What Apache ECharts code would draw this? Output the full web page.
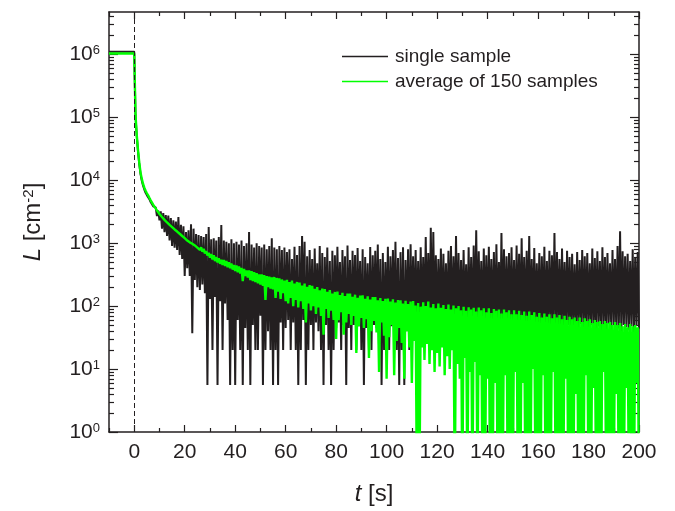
<!DOCTYPE html>
<html><head><meta charset="utf-8">
<script src="https://cdn.jsdelivr.net/npm/echarts@6/dist/echarts.min.js"></script>
<style>html,body{margin:0;padding:0;background:#fff}#c{width:675px;height:511px}</style>
</head><body><div id="c"></div>
<script>
// sampling step of the recorded data (s)
const dt = 0.5;
const preTimes = [-10, 0];
const blackPre = [1.1e6, 1.1e6];
const greenPre = [1.03e6, 1.03e6];

// single sample, t = 0.5 ... 200 s
const blackA = [
  1.05e5, 5.0e4, 2.85e4, 1.8e4, 1.25e4, 9800, 8200, 7100, 6300, 5800,
  5500, 5000, 4500, 4300, 3850, 3600, 3700, 2700, 3300, 2300,
  3200, 1700, 3000, 1500, 2800, 1300, 2750, 1100, 2500, 900,
  2300, 850, 2200, 780, 2600, 650, 1950, 560, 1850, 300
];
const blackB = [
  1500, 400, 1600, 300, 2000, 37, 1700, 260, 1400, 200,
  1350, 180, 1300, 220, 1250, 160, 1400, 5.6, 1800, 130,
  1150, 20, 1200, 140, 1100, 5.6, 1250, 120, 1950, 20,
  1100, 110, 1050, 60, 1000, 5.6, 1150, 20, 1000, 5.6,
  1050, 60, 950, 20, 1100, 5.6, 900, 45, 1000, 20,
  1500, 5.6, 950, 50, 850, 20, 1000, 20, 900, 70,
  850, 5.6, 950, 20, 800, 40, 900, 20, 1200, 5.6,
  850, 20, 800, 5.6, 900, 55, 780, 20, 850, 45
];
const blackC = [
  720, 60, 800, 20, 560, 55, 880, 20, 650, 5.6,
  900, 20, 1300, 60, 1050, 5.6, 620, 20, 780, 50,
  560, 20, 820, 55, 480, 40, 900, 20, 700, 5.6,
  600, 50, 850, 20, 520, 5.6, 760, 20, 640, 45,
  880, 55, 500, 20, 780, 50, 620, 5.6, 920, 45,
  540, 20, 760, 50, 650, 20, 840, 48, 520, 20,
  800, 5.6, 600, 45, 480, 20, 870, 20, 640, 50,
  760, 45, 950, 20, 560, 5.6, 700, 20, 500, 45,
  880, 20, 620, 48, 780, 42, 1050, 20, 580, 5.6,
  720, 20, 860, 5.6, 540, 40, 800, 20, 960, 45
];
const blackD = [
  620, 45, 780, 50, 520, 40, 860, 55, 600, 42,
  1250, 50, 700, 38, 1750, 45, 1500, 52, 640, 40,
  560, 48, 820, 36, 680, 50, 480, 42, 760, 55,
  900, 40, 620, 46, 1300, 38, 700, 50, 540, 44,
  780, 52, 460, 40, 860, 48, 600, 36, 920, 50,
  1600, 42, 740, 55, 520, 40, 820, 46, 640, 38,
  880, 50, 560, 44, 720, 36, 960, 52, 500, 40,
  1450, 46, 800, 38, 620, 50, 700, 42, 860, 48,
  540, 36, 920, 52, 680, 40, 1200, 46, 600, 44,
  760, 50, 1300, 38, 560, 48, 840, 42, 480, 54,
  700, 40, 620, 46, 880, 36, 520, 50, 760, 44,
  640, 48, 1450, 40, 720, 52, 560, 38, 820, 46,
  500, 42, 760, 50, 600, 36, 680, 48, 460, 44,
  720, 40, 540, 52, 780, 38, 620, 46, 700, 42,
  480, 50, 820, 36, 580, 44, 740, 48, 520, 40,
  860, 46, 600, 38, 700, 52, 480, 42, 780, 50,
  560, 40, 900, 44, 1550, 36, 740, 50, 620, 46,
  680, 42, 520, 48, 800, 38, 600, 50, 720, 44
];

// average of 150 samples, t = 0.5 ... 200 s (0.1 = zero count, below axis)
const greenA = [
  1.1e5, 5.2e4, 3.0e4, 1.9e4, 1.32e4, 1.05e4, 8700, 7600, 6800, 6200,
  5750, 5250, 4800, 4470, 4100, 3800, 3550, 3310, 3100, 2900,
  2750, 2600, 2460, 2340, 2230, 2130, 2040, 1950, 1870, 1800,
  1720, 1650, 1590, 1530, 1470, 1410, 1360, 1300, 1250, 1200
];
const greenB = [
  1210, 1100, 1150, 1030, 1090, 980, 1030, 920, 960, 850,
  910, 780, 860, 730, 810, 690, 750, 640, 700, 590,
  670, 550, 640, 520, 600, 495, 575, 470, 545, 450,
  540, 435, 520, 415, 495, 400, 475, 380, 450, 360,
  440, 345, 425, 330, 405, 250, 390, 300, 370, 285,
  370, 260, 360, 250, 345, 240, 335, 230, 320, 220,
  320, 210, 310, 125, 300, 200, 295, 190, 285, 185,
  290, 135, 280, 170, 275, 130, 265, 160, 255, 120
];
const greenC = [
  262, 110, 240, 135, 255, 100, 228, 125, 242, 95,
  236, 120, 212, 90, 228, 55, 202, 110, 215, 85,
  210, 100, 188, 75, 200, 95, 178, 70, 190, 35,
  186, 90, 168, 65, 180, 85, 158, 60, 168, 30,
  170, 60, 150, 80, 163, 35, 145, 55, 158, 75,
  158, 50, 141, 70, 152, 18, 136, 48, 147, 65,
  149, 45, 131, 62, 143, 15, 127, 40, 139, 58,
  139, 38, 124, 9, 134, 55, 120, 34, 131, 7,
  132, 32, 118, 50, 128, 8, 114, 28, 125, 45,
  124, 26, 110, 7, 121, 40, 108, 22, 118, 6
];
const greenD = [
  120, 28, 102, 0.1, 112, 0.1, 98, 22, 115, 14,
  100, 25, 118, 12, 95, 20, 108, 9, 92, 18,
  110, 11, 94, 22, 104, 8, 90, 16, 106, 10,
  88, 20, 102, 0.1, 92, 12, 100, 7, 86, 0.1,
  98, 15, 84, 0.1, 96, 9, 88, 0.1, 94, 13,
  82, 0.1, 95, 8, 86, 0.1, 92, 0.1, 80, 7,
  92, 0.1, 78, 0.1, 90, 6, 84, 0.1, 88, 0.1,
  76, 0.1, 88, 8, 80, 0.1, 86, 0.1, 74, 0.1,
  86, 9, 74, 0.1, 84, 0.1, 72, 6, 82, 0.1,
  70, 0.1, 82, 0.1, 72, 10, 80, 0.1, 68, 0.1,
  78, 0.1, 66, 8, 76, 0.1, 68, 0.1, 74, 0.1,
  64, 9, 74, 0.1, 66, 0.1, 72, 0.1, 62, 0.1,
  70, 7, 60, 0.1, 68, 0.1, 62, 0.1, 66, 4,
  58, 0.1, 66, 0.1, 56, 0.1, 64, 8, 58, 0.1,
  62, 0.1, 54, 5, 60, 0.1, 56, 0.1, 58, 0.1,
  52, 9, 58, 0.1, 54, 0.1, 56, 0.1, 50, 0.1,
  56, 4, 50, 0.1, 54, 0.1, 48, 0.1, 52, 5,
  46, 0.1, 52, 0.1, 48, 0.1, 50, 6, 46, 0.1
];

// axis ticks
const xMajor = [0, 20, 40, 60, 80, 100, 120, 140, 160, 180, 200];
const xMinor = [-10, 10, 30, 50, 70, 90, 110, 130, 150, 170, 190];
const yMajor = [1, 10, 100, 1e3, 1e4, 1e5, 1e6];
const yMinor = [];
for (let d = 1; d <= 1e6; d *= 10) for (let m = 2; m <= 9; m++) if (m * d < 4.7e6) yMinor.push(m * d);

const seriesNames = ['single sample', 'average of 150 samples'];
const INK = '#231f20';
const GREEN = '#00ff00';
const FONT = '"Liberation Sans", Arial, sans-serif';

function build(pre, parts) {
  const out = preTimes.map((t, i) => [t, pre[i]]);
  let k = 1;
  parts.forEach(p => p.forEach(v => { out.push([k * dt, v]); k++; }));
  return out;
}

const X_MIN = -10, X_MAX = 200, Y_MIN = 1, Y_MAX = 4.7e6;

function xAx(pos, ticks, len, withLine, withLabel) {
  return {
    type: 'value', position: pos, min: X_MIN, max: X_MAX,
    axisLine: { show: withLine, onZero: false, lineStyle: { color: INK, width: 1.5 } },
    axisTick: { show: true, inside: true, length: len, customValues: ticks, lineStyle: { color: INK, width: 1.2 } },
    axisLabel: withLabel ? { show: true, customValues: ticks, margin: 10, color: INK, fontSize: 21, fontFamily: FONT } : { show: false },
    splitLine: { show: false }
  };
}
function yAx(pos, ticks, len, withLine, withLabel) {
  return {
    type: 'log', logBase: 10, position: pos, min: Y_MIN, max: Y_MAX,
    axisLine: { show: withLine, onZero: false, lineStyle: { color: INK, width: 1.5 } },
    axisTick: { show: true, inside: true, length: len, customValues: ticks, lineStyle: { color: INK, width: 1.2 } },
    axisLabel: withLabel ? {
      show: true, customValues: ticks, margin: 9,
      formatter: v => '{b|10}{s|' + Math.round(Math.log10(v)) + '}',
      rich: {
        b: { fontSize: 21, color: INK, fontFamily: FONT },
        s: { fontSize: 13, color: INK, fontFamily: FONT, verticalAlign: 'top' }
      }
    } : { show: false },
    splitLine: { show: false }
  };
}

const xAxes = [
  xAx('bottom', xMajor, 7, true, true),
  xAx('bottom', xMinor, 4, false, false),
  xAx('top', xMajor, 7, true, false),
  xAx('top', xMinor, 4, false, false)
];
Object.assign(xAxes[0], {
  name: '{i|t} [s]', nameLocation: 'middle', nameGap: 50,
  nameTextStyle: { fontSize: 24, color: INK, fontFamily: FONT, rich: { i: { fontSize: 24, fontStyle: 'italic', color: INK, fontFamily: FONT } } }
});
const yAxes = [
  yAx('left', yMajor, 9, true, true),
  yAx('left', yMinor, 5, false, false),
  yAx('right', yMajor, 9, true, false),
  yAx('right', yMinor, 5, false, false)
];
Object.assign(yAxes[0], {
  name: '{i|L} [cm{s|-2}]', nameLocation: 'middle', nameGap: 64, nameRotate: 90,
  nameTextStyle: { fontSize: 24, color: INK, fontFamily: FONT, rich: {
    i: { fontSize: 24, fontStyle: 'italic', color: INK, fontFamily: FONT },
    s: { fontSize: 15, verticalAlign: 'top', color: INK, fontFamily: FONT } } }
});

const chart = echarts.init(document.getElementById('c'), null, { renderer: 'canvas' });
chart.setOption({
  animation: false,
  backgroundColor: '#fff',
  grid: { left: 109, right: 36, top: 12, bottom: 77, containLabel: false },
  xAxis: xAxes,
  yAxis: yAxes,
  legend: {
    orient: 'vertical', left: 342, top: 47, padding: 0,
    itemWidth: 46, itemHeight: 1.4, itemGap: 6,
    icon: 'rect',
    textStyle: { fontSize: 19, color: INK, fontFamily: FONT, padding: [0, 0, 0, 2] },
    data: seriesNames
  },
  series: [
    {
      name: seriesNames[0], type: 'line', xAxisIndex: 0, yAxisIndex: 0,
      data: build(blackPre, [blackA, blackB, blackC, blackD]),
      symbol: 'none', showSymbol: false, clip: true,
      lineStyle: { color: INK, width: 2 }, itemStyle: { color: INK },
      markLine: {
        silent: true, symbol: ['none', 'none'], label: { show: false },
        lineStyle: { color: INK, width: 1, type: [5, 3] },
        data: [{ xAxis: 0 }]
      }
    },
    {
      name: seriesNames[1], type: 'line', xAxisIndex: 0, yAxisIndex: 0,
      data: build(greenPre, [greenA, greenB, greenC, greenD]),
      symbol: 'none', showSymbol: false, clip: true,
      lineStyle: { color: GREEN, width: 2.4 }, itemStyle: { color: GREEN }
    }
  ]
});
</script>
</body></html>
